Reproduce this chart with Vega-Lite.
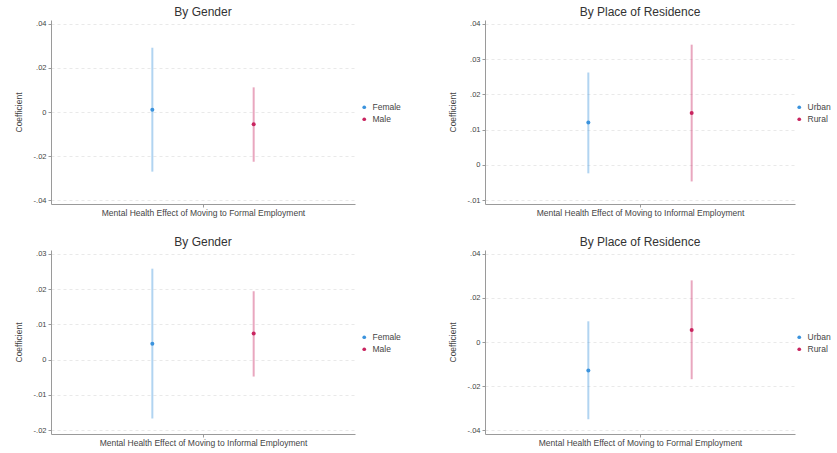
{
  "$schema": "https://vega.github.io/schema/vega-lite/v6.json",
  "background": "white",
  "padding": {"left": 14, "top": 5, "right": 2, "bottom": 2},
  "datasets": {
    "p1": [
      {"group": "Female", "pos": 1, "coef": 0.001, "lo": -0.0271, "hi": 0.0292},
      {"group": "Male", "pos": 2, "coef": -0.0056, "lo": -0.0226, "hi": 0.0112}
    ],
    "p2": [
      {"group": "Urban", "pos": 1, "coef": 0.012, "lo": -0.0024, "hi": 0.0262},
      {"group": "Rural", "pos": 2, "coef": 0.0147, "lo": -0.0047, "hi": 0.0341}
    ],
    "p3": [
      {"group": "Female", "pos": 1, "coef": 0.0045, "lo": -0.0167, "hi": 0.0258},
      {"group": "Male", "pos": 2, "coef": 0.0074, "lo": -0.0048, "hi": 0.0194}
    ],
    "p4": [
      {"group": "Urban", "pos": 1, "coef": -0.013, "lo": -0.0351, "hi": 0.0094},
      {"group": "Rural", "pos": 2, "coef": 0.0055, "lo": -0.0169, "hi": 0.028}
    ]
  },
  "columns": 2,
  "spacing": {"row": 18, "column": 47},
  "concat": [
    {
      "title": "By Gender",
      "width": 304, "height": 184,
      "data": {"name": "p1"},
      "encoding": {
        "x": {"field": "pos", "type": "quantitative", "scale": {"domain": [0, 3]}, "axis": {"values": [1.5], "labels": false, "grid": false, "title": "Mental Health Effect of Moving to Formal Employment"}},
        "color": {"field": "group", "type": "nominal", "sort": ["Female", "Male"], "scale": {"range": ["#3b93dd", "#c9245f"]}, "legend": {"orient": "none", "legendX": 309, "legendY": 83}}
      },
      "layer": [
        {"mark": {"type": "rule", "strokeWidth": 2, "opacity": 0.4},
         "encoding": {"y": {"field": "lo", "type": "quantitative", "scale": {"domain": [-0.0418, 0.0418], "nice": false, "zero": false}, "axis": {"values": [-0.04, -0.02, 0, 0.02, 0.04], "tickCount": 10, "title": "Coefficient", "labelOverlap": false}}, "y2": {"field": "hi"}}},
        {"mark": {"type": "point", "filled": true, "size": 16, "opacity": 1},
         "encoding": {"y": {"field": "coef", "type": "quantitative"}}}
      ]
    },
    {
      "title": "By Place of Residence",
      "width": 310, "height": 184,
      "data": {"name": "p2"},
      "encoding": {
        "x": {"field": "pos", "type": "quantitative", "scale": {"domain": [0, 3]}, "axis": {"values": [1.5], "labels": false, "grid": false, "title": "Mental Health Effect of Moving to Informal Employment"}},
        "color": {"field": "group", "type": "nominal", "sort": ["Urban", "Rural"], "scale": {"range": ["#3b93dd", "#c9245f"]}, "legend": {"orient": "none", "legendX": 310, "legendY": 83}}
      },
      "layer": [
        {"mark": {"type": "rule", "strokeWidth": 2, "opacity": 0.4},
         "encoding": {"y": {"field": "lo", "type": "quantitative", "scale": {"domain": [-0.0111, 0.0411], "nice": false, "zero": false}, "axis": {"values": [-0.01, 0, 0.01, 0.02, 0.03, 0.04], "tickCount": 10, "title": "Coefficient", "labelOverlap": false}}, "y2": {"field": "hi"}}},
        {"mark": {"type": "point", "filled": true, "size": 16, "opacity": 1},
         "encoding": {"y": {"field": "coef", "type": "quantitative"}}}
      ]
    },
    {
      "title": "By Gender",
      "width": 304, "height": 184,
      "data": {"name": "p3"},
      "encoding": {
        "x": {"field": "pos", "type": "quantitative", "scale": {"domain": [0, 3]}, "axis": {"values": [1.5], "labels": false, "grid": false, "title": "Mental Health Effect of Moving to Informal Employment"}},
        "color": {"field": "group", "type": "nominal", "sort": ["Female", "Male"], "scale": {"range": ["#3b93dd", "#c9245f"]}, "legend": {"orient": "none", "legendX": 309, "legendY": 83}}
      },
      "layer": [
        {"mark": {"type": "rule", "strokeWidth": 2, "opacity": 0.4},
         "encoding": {"y": {"field": "lo", "type": "quantitative", "scale": {"domain": [-0.0211, 0.0311], "nice": false, "zero": false}, "axis": {"values": [-0.02, -0.01, 0, 0.01, 0.02, 0.03], "tickCount": 10, "title": "Coefficient", "labelOverlap": false}}, "y2": {"field": "hi"}}},
        {"mark": {"type": "point", "filled": true, "size": 16, "opacity": 1},
         "encoding": {"y": {"field": "coef", "type": "quantitative"}}}
      ]
    },
    {
      "title": "By Place of Residence",
      "width": 310, "height": 184,
      "data": {"name": "p4"},
      "encoding": {
        "x": {"field": "pos", "type": "quantitative", "scale": {"domain": [0, 3]}, "axis": {"values": [1.5], "labels": false, "grid": false, "title": "Mental Health Effect of Moving to Formal Employment"}},
        "color": {"field": "group", "type": "nominal", "sort": ["Urban", "Rural"], "scale": {"range": ["#3b93dd", "#c9245f"]}, "legend": {"orient": "none", "legendX": 310, "legendY": 83}}
      },
      "layer": [
        {"mark": {"type": "rule", "strokeWidth": 2, "opacity": 0.4},
         "encoding": {"y": {"field": "lo", "type": "quantitative", "scale": {"domain": [-0.0418, 0.0418], "nice": false, "zero": false}, "axis": {"values": [-0.04, -0.02, 0, 0.02, 0.04], "tickCount": 10, "title": "Coefficient", "labelOverlap": false}}, "y2": {"field": "hi"}}},
        {"mark": {"type": "point", "filled": true, "size": 16, "opacity": 1},
         "encoding": {"y": {"field": "coef", "type": "quantitative"}}}
      ]
    }
  ],
  "resolve": {"scale": {"color": "independent", "x": "independent", "y": "independent"}, "legend": {"color": "independent"}},
  "config": {
    "font": "Liberation Sans",
    "view": {"stroke": null},
    "title": {"fontSize": 12, "fontWeight": "normal", "color": "#333333", "offset": 1, "anchor": "middle"},
    "axis": {
      "domainColor": "#9a9a9a", "tickColor": "#9a9a9a", "tickSize": 3,
      "labelFontSize": 7.5, "labelColor": "#444444", "titleFontSize": 8.5, "titleFontWeight": "normal", "titleColor": "#444444",
      "gridColor": "#e3e3e3", "gridDash": [3, 3], "gridWidth": 0.8, "labelOverlap": false
    },
    "axisY": {"labelExpr": "datum.value == 0 ? '0' : (datum.value < 0 ? '-' : '') + replace(format(abs(datum.value), '.2f'), '0.', '.')", "titlePadding": 10, "labelPadding": 2},
    "axisX": {"titlePadding": 1},
    "legend": {"title": null, "symbolType": "circle", "symbolSize": 14, "symbolOpacity": 1, "labelFontSize": 8.5, "labelColor": "#444444", "rowPadding": 3, "symbolStrokeWidth": 0}
  }
}
